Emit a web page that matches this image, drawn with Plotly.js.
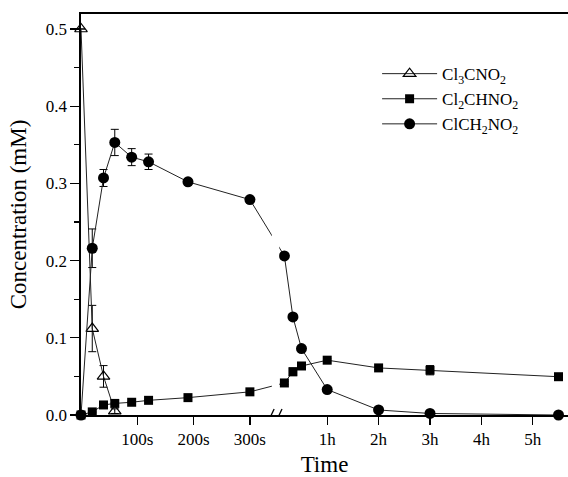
<!DOCTYPE html>
<html>
<head>
<meta charset="utf-8">
<script src="https://cdn.plot.ly/plotly-3.0.1.min.js"></script>
<style>html,body{margin:0;padding:0;background:#fff;}#chart{width:568px;height:477px;}</style>
</head>
<body>
<div id="chart"></div>
<script>
// ---- data ----
// early part of the axis, time in seconds
const earlySec = [0, 20, 40, 60, 90, 120, 190, 300];
// late part of the axis (after the break), time in hours
const lateHour = [0.167, 0.333, 0.5, 1, 2, 3, 5.5];

const cl3Sec = [0, 20, 40, 60];
const cl3Val = [0.5, 0.112, 0.05, 0.005];
const cl3Err = [0, 0.03, 0.014, 0.003];

const cl2EarlyVal = [0, 0.004, 0.013, 0.015, 0.0165, 0.019, 0.0225, 0.030];
const cl2EarlyErr = [0, 0.001, 0.001, 0.001, 0.001, 0.001, 0.001, 0.002];
const cl2LateVal = [0.0415, 0.056, 0.0635, 0.071, 0.061, 0.058, 0.0496];
const cl2LateErr = [0.002, 0.005, 0.002, 0.002, 0.002, 0.006, 0.002];

const clEarlyVal = [0, 0.216, 0.307, 0.353, 0.334, 0.328, 0.302, 0.279];
const clEarlyErr = [0, 0.025, 0.011, 0.017, 0.011, 0.010, 0.004, 0.002];
const clLateVal = [0.206, 0.127, 0.086, 0.033, 0.0065, 0.002, 0.0];
const clLateErr = [0.002, 0.004, 0.002, 0.002, 0.002, 0.001, 0];

const secTicks = [100, 200, 300];
const secTickText = ['100s', '200s', '300s'];
const hourTicks = [1, 2, 3, 4, 5];
const hourTickText = ['1h', '2h', '3h', '4h', '5h'];
const yTicks = [0, 0.1, 0.2, 0.3, 0.4, 0.5];
const yTickText = ['0.0', '0.1', '0.2', '0.3', '0.4', '0.5'];

const seriesNames = ['Cl<sub>3</sub>CNO<sub>2</sub>', 'Cl<sub>2</sub>CHNO<sub>2</sub>', 'ClCH<sub>2</sub>NO<sub>2</sub>'];

// ---- broken-axis scale ----
const BREAK_POS = 346;     // axis position where the hour segment starts (0 h)
const HOUR_UNITS = 91.3;   // axis units per hour in the right segment
const fromSec = s => s;
const fromHour = h => BREAK_POS + h * HOUR_UNITS;

const xEarly = earlySec.map(fromSec);
const xLate = lateHour.map(fromHour);
const xAll = xEarly.concat(xLate);

const FONT = 'Liberation Serif';
const lineStyle = {color: '#222', width: 1};
const errStyle = (arr) => ({type: 'data', array: arr, visible: true, color: '#000', thickness: 1, width: 4});

const traces = [
  {
    x: cl3Sec.map(fromSec), y: cl3Val, name: seriesNames[0],
    mode: 'lines+markers', line: lineStyle, cliponaxis: false,
    marker: {symbol: 'triangle-up-open', size: 11, color: '#000', line: {width: 1.2, color: '#000'}},
    error_y: errStyle(cl3Err)
  },
  {
    x: xAll, y: cl2EarlyVal.concat(cl2LateVal), name: seriesNames[1],
    mode: 'lines+markers', line: lineStyle, cliponaxis: false,
    marker: {symbol: 'square', size: 9, color: '#000'},
    error_y: errStyle(cl2EarlyErr.concat(cl2LateErr))
  },
  {
    x: xAll, y: clEarlyVal.concat(clLateVal), name: seriesNames[2],
    mode: 'lines+markers', line: lineStyle, cliponaxis: false,
    marker: {symbol: 'circle', size: 11, color: '#000'},
    error_y: errStyle(clEarlyErr.concat(clLateErr))
  }
];

const layout = {
  width: 568, height: 477,
  margin: {l: 81, r: 0, t: 14, b: 62},
  paper_bgcolor: '#fff', plot_bgcolor: '#fff',
  font: {family: FONT, color: '#000', size: 17},
  showlegend: true,
  legend: {
    x: 0.608, y: 0.895, xanchor: 'left', yanchor: 'top',
    bgcolor: 'rgba(0,0,0,0)', borderwidth: 0,
    font: {family: FONT, size: 17, color: '#000'},
    tracegroupgap: 0, itemwidth: 55
  },
  xaxis: {
    range: [0, 865],
    tickmode: 'array',
    tickvals: secTicks.map(fromSec).concat(hourTicks.map(fromHour)),
    ticktext: secTickText.concat(hourTickText),
    ticks: 'outside', ticklen: 8, tickwidth: 1.2, tickcolor: '#000',
    showline: true, linecolor: '#000', linewidth: 1.6, mirror: true,
    showgrid: false, zeroline: false,
    tickfont: {family: FONT, size: 17, color: '#000'},
    title: {text: 'Time', font: {family: FONT, size: 23, color: '#000'}, standoff: 8}
  },
  yaxis: {
    range: [0, 0.5194],
    tickmode: 'array',
    tickvals: yTicks,
    ticktext: yTickText,
    ticks: 'outside', ticklen: 9, tickwidth: 1.2, tickcolor: '#000',
    minor: {tickvals: [0.05, 0.15, 0.25, 0.35, 0.45], ticks: 'outside', ticklen: 5, tickwidth: 1.2, tickcolor: '#000'},
    showline: true, linecolor: '#000', linewidth: 1.6, mirror: false,
    showgrid: false, zeroline: false,
    tickfont: {family: FONT, size: 17, color: '#000'},
    title: {text: 'Concentration (mM)', font: {family: FONT, size: 23, color: '#000'}, standoff: 13}
  },
  shapes: [
    // gap in the plot lines at the axis break
    {type: 'rect', xref: 'x', yref: 'y', x0: 339, x1: 352, y0: 0.013, y1: 0.5, fillcolor: '#fff', line: {width: 0}, layer: 'above'},
    // gap in the axis line
    {type: 'rect', xref: 'x', yref: 'y', x0: 339, x1: 345, y0: -0.004, y1: 0.004, fillcolor: '#fff', line: {width: 0}, layer: 'above'},
    // break marks //
    {type: 'line', xref: 'x', yref: 'y', x0: 330.5, y0: -0.0117, x1: 343, y1: 0.0078, line: {color: '#000', width: 1.3}, layer: 'above'},
    {type: 'line', xref: 'x', yref: 'y', x0: 344.5, y0: -0.0117, x1: 357, y1: 0.0078, line: {color: '#000', width: 1.3}, layer: 'above'}
  ]
};

Plotly.newPlot('chart', traces, layout, {displayModeBar: false, staticPlot: true});
</script>
</body>
</html>
